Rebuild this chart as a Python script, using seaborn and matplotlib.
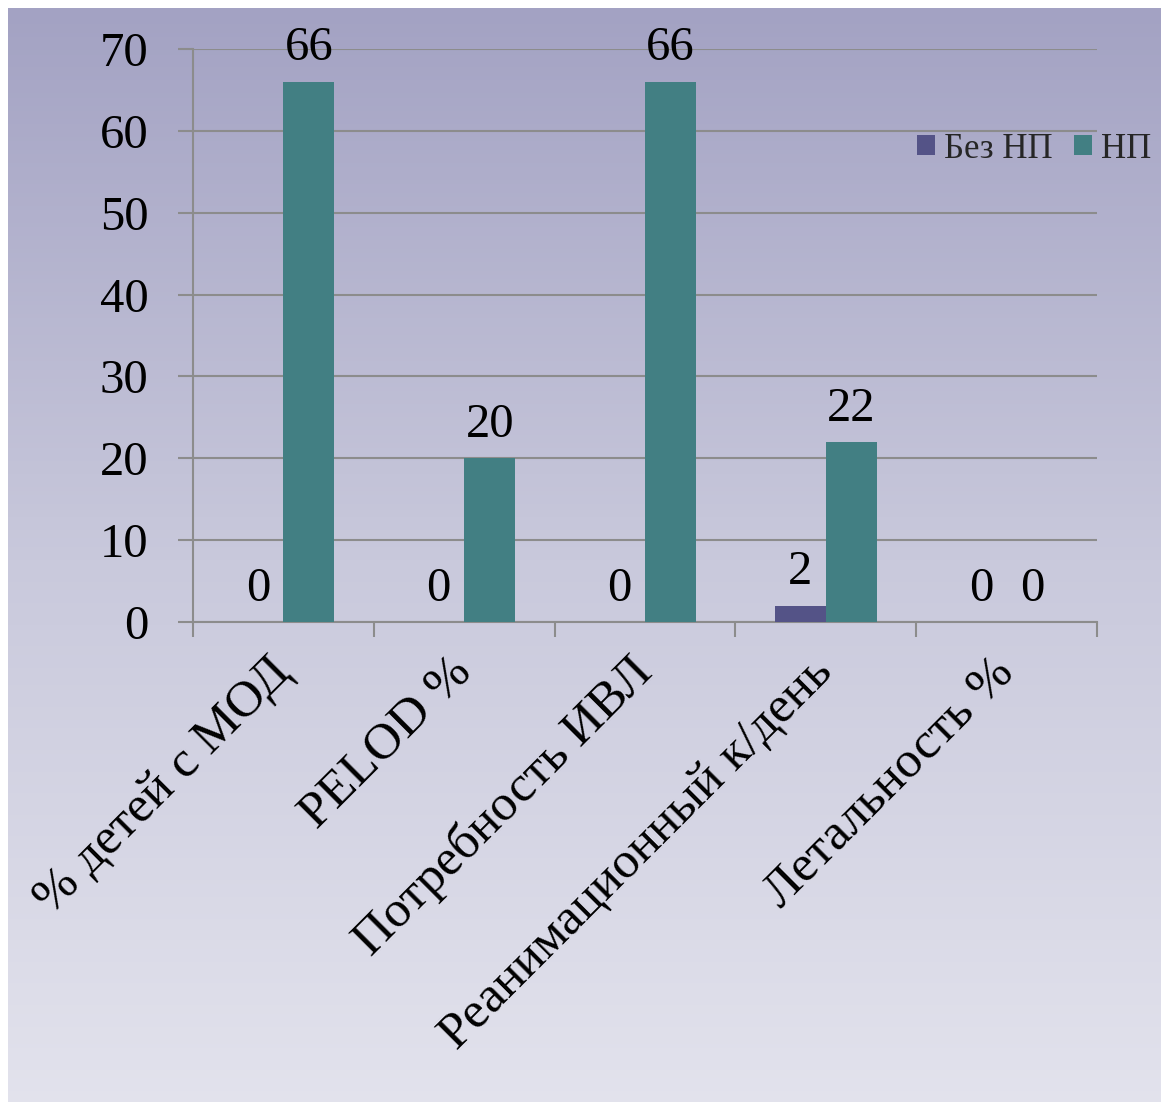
import numpy as np
import pandas as pd
import matplotlib
matplotlib.use("Agg")
import matplotlib.pyplot as plt
from matplotlib.colors import LinearSegmentedColormap
from matplotlib.ticker import FixedLocator
import seaborn as sns

categories = ["% детей с МОД", "PELOD %", "Потребность ИВЛ",
              "Реанимационный к/день", "Летальность %"]
series_names = ["Без НП", "НП"]
values_bez_np = [0, 0, 0, 2, 0]
values_np = [66, 20, 66, 22, 0]
y_ticks = [0, 10, 20, 30, 40, 50, 60, 70]

df = pd.DataFrame({
    "category": categories * 2,
    "group": [series_names[0]] * len(categories) + [series_names[1]] * len(categories),
    "value": values_bez_np + values_np,
})

sns.set_theme(style="white")
plt.rcParams["font.family"] = ["Liberation Serif", "DejaVu Serif"]

W, H = 1161, 1102
fig = plt.figure(figsize=(W / 100, H / 100), dpi=100, facecolor="white")

# gradient backdrop
bg = fig.add_axes([8 / W, -0.01, 1.01 - 8 / W, 1.01 - 8 / H], zorder=-5)
cmap = LinearSegmentedColormap.from_list("bg", ["#a3a2c3", "#c9c9dc", "#e3e3ed"])
bg.imshow(np.linspace(0, 1, 256).reshape(-1, 1), aspect="auto", cmap=cmap,
          extent=[0, 1, 0, 1])
bg.set_axis_off()

ax = fig.add_axes([193 / W, 1 - 622 / H, (1097 - 193) / W, (622 - 49) / H])
ax.set_facecolor("none")

palette = {"Без НП": "#545387", "НП": "#427f83"}
sns.barplot(data=df, x="category", y="value", hue="group", order=categories,
            hue_order=series_names, palette=palette, width=0.565,
            saturation=1, ax=ax, legend=True, zorder=3,
            linewidth=0, edgecolor="none")

ax.set_ylim(0, 70)
ax.set_xlim(-0.5, len(categories) - 0.5)
ax.set_xlabel("")
ax.set_ylabel("")

grid_c = "#8c8c8c"
ax.set_yticks(y_ticks)
ax.yaxis.grid(True, color=grid_c, linewidth=1.5, zorder=0)
ax.set_axisbelow(True)
for s in ["top", "right"]:
    ax.spines[s].set_visible(False)
for s in ["left", "bottom"]:
    ax.spines[s].set_color(grid_c)
    ax.spines[s].set_linewidth(1.5)
ax.tick_params(axis="y", left=True, length=11, width=1.5, color=grid_c,
               pad=21, labelsize=35, labelcolor="black")
ax.tick_params(axis="x", which="major", bottom=False, length=0, pad=31,
               labelsize=37, labelcolor="black")
ax.xaxis.set_minor_locator(FixedLocator(np.arange(-0.5, len(categories), 1.0)))
ax.tick_params(axis="x", which="minor", bottom=True, length=11, width=1.5,
               color=grid_c)
for lbl in ax.get_xticklabels():
    lbl.set_rotation(45)
    lbl.set_ha("right")
    lbl.set_va("center")
    lbl.set_rotation_mode("anchor")

# value labels over every bar
for container in ax.containers:
    for bar in container:
        h = bar.get_height()
        ax.annotate(f"{h:g}", (bar.get_x() + bar.get_width() / 2, h),
                    xytext=(0, 24), textcoords="offset points",
                    ha="center", va="center", fontsize=35, color="black",
                    annotation_clip=False)

handles, labels = ax.get_legend_handles_labels()
ax.legend_.remove()
fig.legend(handles, labels, loc="center", bbox_to_anchor=(1034 / W, 1 - 149 / H),
           ncol=2, frameon=False, fontsize=25, handlelength=0.53,
           handleheight=0.5, handletextpad=0.25, columnspacing=0.6,
           borderpad=0)

fig.savefig("out.png", dpi=100, facecolor="white")
